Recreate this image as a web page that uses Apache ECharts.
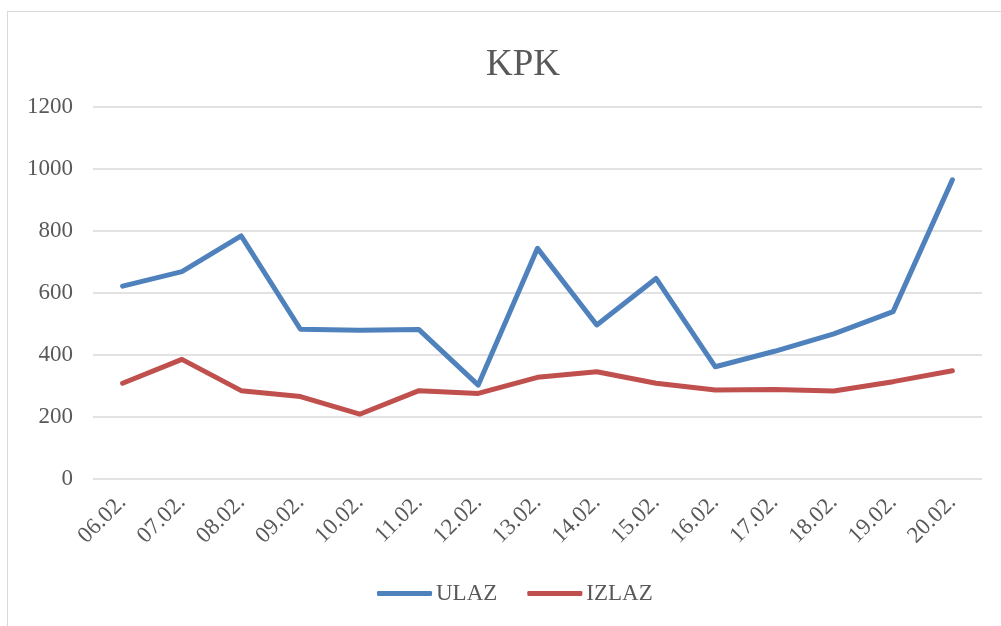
<!DOCTYPE html>
<html>
<head>
<meta charset="UTF-8">
<title>KPK</title>
<script src="https://cdn.jsdelivr.net/npm/echarts@6/dist/echarts.min.js"></script>
<style>
    html, body{
        margin: 0;
        padding: 0;
        overflow: hidden;
        background: #fff;
    }
    .frame{
        position: absolute;
        left: 7px;
        top: 11px;
        width: 1100px;
        height: 700px;
        border: 1px solid #d9d9d9;
    }
    #main{
        position: absolute;
        left: 0;
        top: 0;
        width: 1001px;
        height: 626px;
    }
</style>
</head>
<body>
    <div class="frame"></div>
    <div id="main"></div>
    <script type="text/javascript">
        // podaci
        var dani = ['06.02.','07.02.','08.02.','09.02.','10.02.','11.02.','12.02.','13.02.','14.02.','15.02.','16.02.','17.02.','18.02.','19.02.','20.02.']
        var ulaz = [622, 669, 784, 483, 480, 482, 303, 744, 497, 647, 362, 412, 468, 540, 965]
        var izlaz = [309, 386, 285, 266, 209, 285, 276, 328, 346, 309, 287, 289, 284, 314, 349]

        var font = '"Liberation Serif", "Times New Roman", serif'
        var myChart = echarts.init(document.getElementById('main'))

        var option = {
            animation: false,
            title: {
                text: 'KPK',
                left: 481,
                top: 42,
                textStyle: {
                    fontFamily: font,
                    fontSize: 37,
                    fontWeight: 'normal',
                    color: '#595959'
                }
            },
            legend: {
                bottom: 16,
                left: 372,
                icon: 'roundRect',
                itemWidth: 55,
                itemHeight: 5,
                itemGap: 30,
                textStyle: {
                    fontFamily: font,
                    fontSize: 23,
                    color: '#595959',
                    padding: [0, 0, 0, -1]
                },
                data: ['ULAZ', 'IZLAZ']
            },
            grid: {
                left: 93,
                right: 19,
                top: 107,
                bottom: 147
            },
            xAxis: {
                type: 'category',
                data: dani,
                boundaryGap: true,
                axisLine: { show: false },
                axisTick: { show: false },
                axisLabel: {
                    rotate: 45,
                    margin: 20,
                    fontFamily: font,
                    fontSize: 23,
                    color: '#595959'
                }
            },
            yAxis: {
                type: 'value',
                min: 0,
                max: 1200,
                interval: 200,
                axisLine: { show: false },
                axisTick: { show: false },
                axisLabel: {
                    margin: 20,
                    fontFamily: font,
                    fontSize: 23,
                    color: '#595959',
                    formatter: function (v) { return String(v) }
                },
                splitLine: {
                    lineStyle: { color: '#d9d9d9', width: 1.5 }
                }
            },
            series: [
                {
                    name: 'ULAZ',
                    type: 'line',
                    data: ulaz,
                    showSymbol: false,
                    symbol: 'none',
                    itemStyle: { color: '#4f81bd' },
                    lineStyle: { color: '#4f81bd', width: 5, cap: 'round', join: 'round' }
                },
                {
                    name: 'IZLAZ',
                    type: 'line',
                    data: izlaz,
                    showSymbol: false,
                    symbol: 'none',
                    itemStyle: { color: '#c0504d' },
                    lineStyle: { color: '#c0504d', width: 5, cap: 'round', join: 'round' }
                }
            ]
        }
        myChart.setOption(option)
    </script>
</body>
</html>
